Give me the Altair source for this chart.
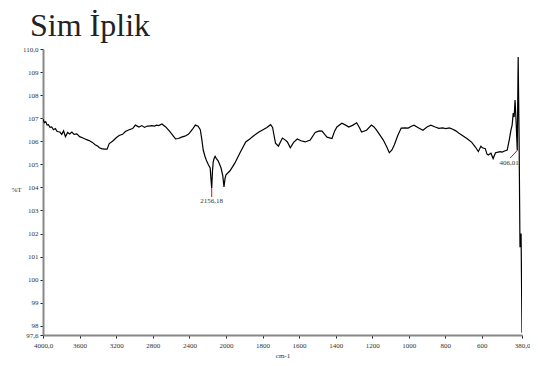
import altair as alt
import pandas as pd

wavenumber = [4000, 3985, 3970, 3955, 3940, 3924, 3905, 3885, 3865, 3845, 3816, 3795, 3775, 3755, 3730,
              3708, 3685, 3660, 3630, 3600, 3570, 3540, 3510, 3492, 3460, 3430, 3400, 3384, 3360, 3330,
              3300, 3276, 3240, 3200, 3168, 3130, 3100, 3059, 3020, 2990, 2951, 2920, 2890, 2860, 2843,
              2810, 2780, 2760, 2735, 2700, 2659, 2620, 2590, 2551, 2520, 2486, 2450, 2411, 2370, 2335,
              2305, 2281, 2265, 2249, 2230, 2216, 2195, 2173, 2165, 2156, 2148, 2140, 2130, 2119, 2105,
              2086, 2070, 2054, 2035, 2022, 2010, 2000, 1978, 1951, 1924, 1892, 1870, 1843, 1820, 1800,
              1776, 1756, 1745, 1737, 1729, 1713, 1700, 1691, 1675, 1664, 1648, 1630, 1610, 1590, 1567,
              1539, 1512, 1490, 1474, 1460, 1447, 1420, 1405, 1393, 1366, 1345, 1328, 1305, 1285, 1270,
              1258, 1231, 1204, 1190, 1177, 1160, 1139, 1120, 1106, 1092, 1079, 1060, 1041, 1020, 1003,
              985, 971, 950, 922, 900, 879, 855, 835, 815, 797, 778, 759, 742, 727, 700,
              678, 655, 635, 619, 605, 597, 581, 572, 565, 550, 538, 525, 516, 500, 489,
              475, 461, 450, 440, 434, 428, 423, 418, 412, 406, 401, 396, 391, 385, 380]

transmittance = [106.96, 106.80, 106.85, 106.70, 106.72, 106.60, 106.62, 106.50, 106.55, 106.42, 106.40, 106.30, 106.45, 106.20, 106.38,
                 106.32, 106.40, 106.30, 106.32, 106.20, 106.15, 106.10, 106.05, 106.02, 105.95, 105.85, 105.78, 105.72, 105.68, 105.66,
                 105.66, 105.90, 106.00, 106.15, 106.25, 106.30, 106.42, 106.50, 106.55, 106.70, 106.62, 106.68, 106.60, 106.66, 106.66,
                 106.68, 106.66, 106.70, 106.68, 106.75, 106.62, 106.45, 106.30, 106.10, 106.12, 106.18, 106.22, 106.30, 106.50, 106.70,
                 106.65, 106.50, 106.10, 105.62, 105.35, 105.19, 105.00, 104.84, 104.40, 103.97, 104.70, 105.10, 105.25, 105.35, 105.25,
                 105.15, 105.00, 104.84, 104.50, 104.02, 104.40, 104.54, 104.72, 105.06, 105.49, 105.97, 106.10, 106.27, 106.40, 106.49,
                 106.60, 106.72, 106.60, 106.25, 105.92, 105.79, 106.00, 106.14, 106.05, 105.97, 105.72, 105.95, 106.10, 106.02, 105.97,
                 106.05, 106.38, 106.45, 106.44, 106.30, 106.18, 106.12, 106.45, 106.62, 106.78, 106.70, 106.62, 106.70, 106.80, 106.60,
                 106.40, 106.48, 106.70, 106.62, 106.49, 106.30, 106.05, 105.75, 105.50, 105.62, 105.84, 106.25, 106.57, 106.58, 106.57,
                 106.65, 106.70, 106.60, 106.48, 106.62, 106.70, 106.62, 106.56, 106.58, 106.55, 106.58, 106.52, 106.45, 106.36, 106.22,
                 106.10, 105.95, 105.75, 105.55, 105.78, 105.72, 105.68, 105.45, 105.40, 105.48, 105.25, 105.50, 105.52, 105.55, 105.53,
                 105.58, 105.62, 106.05, 106.50, 106.70, 107.22, 107.05, 107.79, 106.79, 105.60, 109.65, 106.18, 101.41, 102.00, 97.70]

peak_wn = [2156.18, 406.01]
peak_t = [103.97, 105.60]
tick_end_wn = [2156.18, 445.0]
tick_end_t = [103.58, 105.27]
label_wn = [2156.18, 450.0]
label_t = [103.40, 105.06]
peak_labels = ["2156,18", "406,01"]

x_ticks = [4000, 3600, 3200, 2800, 2400, 2000, 1800, 1600, 1400, 1200, 1000, 800, 600, 380]
y_ticks = [97.6, 98, 99, 100, 101, 102, 103, 104, 105, 106, 107, 108, 109, 110]

spec = pd.DataFrame({"wn": wavenumber, "t": transmittance})
peaks = pd.DataFrame({"wn": peak_wn, "t": peak_t, "wn2": tick_end_wn, "t2": tick_end_t,
                      "lwn": label_wn, "lt": label_t, "label": peak_labels})

FONT = "Liberation Serif"
xscale = alt.Scale(domain=[4000, 2000, 380], range=[0, 183, 479], nice=False, zero=False)
yscale = alt.Scale(domain=[97.6, 110], nice=False, zero=False)

xaxis = alt.Axis(values=x_ticks, title="cm-1", titlePadding=3, titleFontSize=7,
                 titleFontWeight="normal", titleFont=FONT, titleColor="#333",
                 labelExpr="datum.value == 4000 ? '4000,0' : datum.value == 380 ? '380,0' : format(datum.value, 'd')",
                 labelOverlap=False, labelFlush=False, labelPadding=3, labelBound=False)
yaxis = alt.Axis(values=y_ticks, title="%T", titleAngle=0, titleX=-27, titleY=140,
                 titleAlign="center", titleBaseline="middle", titleFontSize=7,
                 titleFontWeight="normal", titleFont=FONT, titleColor="#333",
                 labelExpr="datum.value == 110 ? '110,0' : datum.value == 97.6 ? '97,6' : format(datum.value, 'd')",
                 labelOverlap=False, labelFlush=False, labelPadding=2, labelBound=False)

line = alt.Chart(spec).mark_line(color="black", strokeWidth=1.2, clip=True).encode(
    x=alt.X("wn:Q", scale=xscale, axis=xaxis, sort=None),
    y=alt.Y("t:Q", scale=yscale, axis=yaxis),
    order=alt.Order("wn:Q", sort="descending"),
)

rules = alt.Chart(peaks).mark_rule(color="red", strokeWidth=1).encode(
    x=alt.X("wn:Q", scale=xscale, axis=xaxis),
    y=alt.Y("t:Q", scale=yscale, axis=yaxis),
    x2="wn2:Q",
    y2="t2:Q",
)

labels = alt.Chart(peaks).mark_text(font=FONT, fontSize=7, color="#333", baseline="middle", align="center").encode(
    x=alt.X("lwn:Q", scale=xscale, axis=xaxis),
    y=alt.Y("lt:Q", scale=yscale, axis=yaxis),
    text="label:N",
)

chart = alt.layer(line, rules, labels).properties(
    width=479,
    height=286,
    autosize=alt.AutoSizeParams(type="none"),
    padding={"left": 35, "top": 41, "right": 8, "bottom": 25},
    title=alt.TitleParams("Sim İplik", anchor="start", frame="group", font=FONT, fontSize=32,
                          fontWeight="normal", color="#222", dx=-13, offset=2),
).configure_view(stroke=None).configure_axis(
    grid=False, domainColor="#888", domainWidth=2, tickColor="#222", tickSize=3, tickWidth=1,
    labelFont=FONT, labelFontSize=7, labelColor="#333", labelOverlap=False,
)

chart.save("out.html", embed_options={"renderer": "svg", "actions": False})
